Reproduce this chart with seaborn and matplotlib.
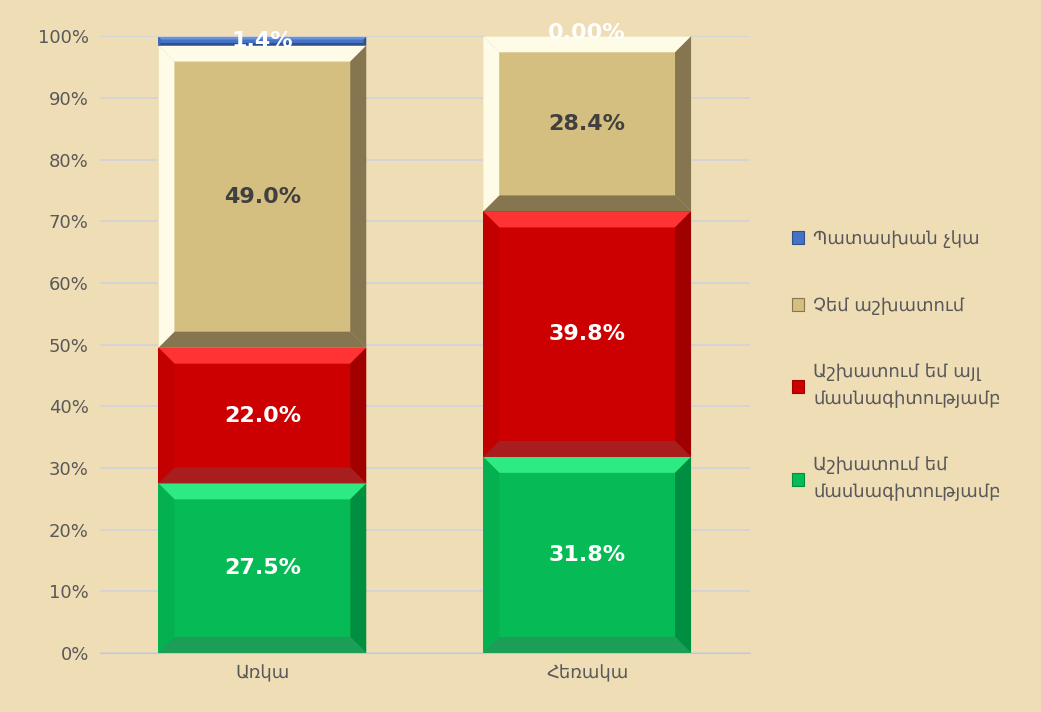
import numpy as np
import pandas as pd
import matplotlib
matplotlib.use("Agg")
import matplotlib.pyplot as plt
from matplotlib.patches import Polygon, Patch
from matplotlib.ticker import PercentFormatter
import seaborn as sns

# data (percent)
categories = ["Առկա", "Հեռակա"]
series = ["Աշխատում եմ\nմասնագիտությամբ", "Աշխատում եմ այլ\nմասնագիտությամբ",
          "Չեմ աշխատում", "Պատասխան չկա"]
work_same = [27.5, 31.8]
work_other = [22.0, 39.8]
not_working = [49.0, 28.4]
no_answer = [1.4, 0.0]
label_text = [["27.5%", "31.8%"], ["22.0%", "39.8%"], ["49.0%", "28.4%"], ["1.4%", "0.00%"]]

# face, top bevel, right bevel, bottom bevel, left bevel
shades = [
    ("#06BB55", "#2EEA82", "#008F40", "#1C9E58", "#05B050"),
    ("#CC0000", "#FF3333", "#A00000", "#A81E1E", "#C20000"),
    ("#D4BE80", "#FEFCE6", "#857650", "#857650", "#FEFCE6"),
    ("#4472C4", "#6A92DA", "#2F4F8F", "#2F4F8F", "#3E68B4"),
]
text_colors = ["white", "white", "#404040", "white"]

sns.set_style("white")
plt.rcParams["font.family"] = ["DejaVu Sans"]

bg = "#EFDDB6"
fig = plt.figure(figsize=(10.41, 7.12), dpi=100, facecolor=bg)
ax = fig.add_axes([0.096, 0.083, 0.624, 0.866])
ax.set_facecolor(bg)

values = [work_same, work_other, not_working, no_answer]
bottom = np.zeros(len(categories))
for i, vals in enumerate(values):
    df = pd.DataFrame({"cat": categories, "val": vals})
    sns.barplot(data=df, x="cat", y="val", bottom=bottom, color=shades[i][0],
                width=0.64, saturation=1, linewidth=0, ax=ax, zorder=3)
    bottom = bottom + np.array(vals)

ax.set_xlim(-0.5, 1.5)
ax.set_ylim(0, 100)
ax.set_yticks(np.arange(0, 101, 10))
ax.yaxis.set_major_formatter(PercentFormatter(100, decimals=0))
ax.grid(axis="y", color="#CFD3DC", linewidth=1.2, zorder=0)
for s in ["top", "right", "left"]:
    ax.spines[s].set_visible(False)
ax.spines["bottom"].set_color("#C8C8C8")
ax.tick_params(axis="both", length=0, labelsize=13, labelcolor="#595959", pad=8)
ax.set_xlabel("")
ax.set_ylabel("")

# bevel on each segment, built from the bar patches
px_x = 2.0 / (0.624 * 1041)
px_y = 100.0 / (0.866 * 712)
bars = ax.patches
n = len(categories)
for i in range(len(values)):
    face, top_c, right_c, bot_c, left_c = shades[i]
    for j in range(n):
        p = bars[i * n + j]
        x0, y0 = p.get_x(), p.get_y()
        w, h = p.get_width(), p.get_height()
        if h <= 0:
            continue
        bpx = min(16, h / px_y * 0.3)
        bx, by = bpx * px_x, bpx * px_y
        x1, y1 = x0 + w, y0 + h
        polys = [
            ([(x0, y1), (x1, y1), (x1 - bx, y1 - by), (x0 + bx, y1 - by)], top_c),
            ([(x1, y1), (x1, y0), (x1 - bx, y0 + by), (x1 - bx, y1 - by)], right_c),
            ([(x0, y0), (x1, y0), (x1 - bx, y0 + by), (x0 + bx, y0 + by)], bot_c),
            ([(x0, y0), (x0, y1), (x0 + bx, y1 - by), (x0 + bx, y0 + by)], left_c),
        ]
        for pts, c in polys:
            ax.add_patch(Polygon(pts, closed=True, facecolor=c, edgecolor="none", zorder=4))

# value labels
bottom = np.zeros(n)
for i, vals in enumerate(values):
    for j in range(n):
        yc = bottom[j] + vals[j] / 2
        if vals[j] == 0:
            yc = bottom[j] + 0.6
        ax.text(j, yc, label_text[i][j], ha="center", va="center", fontsize=16,
                fontweight="bold", color=text_colors[i], zorder=6, clip_on=False)
    bottom = bottom + np.array(vals)

# legend, reversed order like the original
handles = [Patch(facecolor=shades[i][0], edgecolor=shades[i][2], linewidth=0.8, label=series[i])
           for i in range(len(series))][::-1]
leg = fig.legend(handles=handles, loc="upper left", bbox_to_anchor=(0.745, 0.70), frameon=False,
                 fontsize=13, labelcolor="#595959", handlelength=0.7, handleheight=0.7,
                 handletextpad=0.5, labelspacing=2.7)
for t in leg.get_texts():
    t.set_linespacing(1.6)

fig.savefig("out.png", dpi=100, facecolor=bg)
